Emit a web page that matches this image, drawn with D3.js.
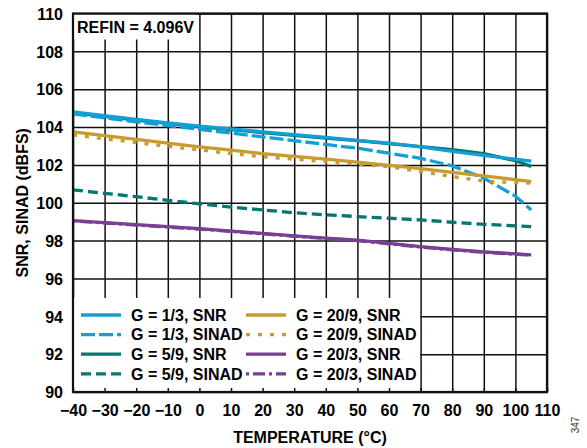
<!DOCTYPE html>
<html><head><meta charset="utf-8">
<script src="https://cdn.jsdelivr.net/npm/d3@7"></script>
<style>
html,body{margin:0;padding:0;background:#fff;}
svg{display:block;font-family:"Liberation Sans",Arial,sans-serif;font-weight:bold;}
</style></head>
<body><svg id="c" width="587" height="448"></svg>
<script>
const temps = [-40,-30,-20,-10,0,10,20,30,40,50,60,70,80,90,100,105];
const g13snr   = [104.8,104.6,104.4,104.22,104.05,103.9,103.75,103.6,103.45,103.3,103.15,102.95,102.72,102.5,102.3,102.2];
const g13sinad = [104.7,104.48,104.28,104.08,103.88,103.68,103.48,103.28,103.08,102.88,102.62,102.35,101.95,101.3,100.35,99.62];
const g59snr   = [104.75,104.56,104.37,104.19,104.02,103.86,103.71,103.56,103.42,103.28,103.12,102.97,102.8,102.6,102.22,101.92];
const g59sinad = [100.68,100.5,100.32,100.13,99.94,99.77,99.62,99.47,99.36,99.27,99.18,99.09,98.97,98.86,98.78,98.74];
const g209snr  = [103.75,103.55,103.35,103.15,102.95,102.78,102.6,102.45,102.3,102.15,101.98,101.8,101.6,101.42,101.22,101.12];
const g209sinad= [103.58,103.38,103.18,102.98,102.79,102.6,102.43,102.3,102.17,102.04,101.9,101.65,101.38,101.15,101.06,101.03];
const g203snr  = [99.06,98.95,98.84,98.74,98.63,98.5,98.38,98.25,98.13,98.02,97.85,97.68,97.53,97.4,97.3,97.25];
const g203sinad= [99.04,98.93,98.82,98.72,98.61,98.48,98.36,98.23,98.11,98.0,97.83,97.66,97.51,97.38,97.28,97.23];
const xTicks = [-40,-30,-20,-10,0,10,20,30,40,50,60,70,80,90,100,110];
const yTicks = [90,92,94,96,98,100,102,104,106,108,110];
const seriesNames = ["G = 1/3, SNR","G = 1/3, SINAD","G = 5/9, SNR","G = 5/9, SINAD","G = 20/9, SNR","G = 20/9, SINAD","G = 20/3, SNR","G = 20/3, SINAD"];

const BLUE="#139fd6", TEAL="#00776f", GOLD="#c89b30", PURPLE="#7a3e93";
const series = [
  {name:seriesNames[2], v:g59snr, c:TEAL, d:null},
  {name:seriesNames[0], v:g13snr, c:BLUE, d:null},
  {name:seriesNames[1], v:g13sinad, c:BLUE, d:"14,4"},
  {name:seriesNames[3], v:g59sinad, c:TEAL, d:"10,5"},
  {name:seriesNames[4], v:g209snr, c:GOLD, d:null},
  {name:seriesNames[5], v:g209sinad, c:GOLD, d:"4,8"},
  {name:seriesNames[6], v:g203snr, c:PURPLE, d:null},
  {name:seriesNames[7], v:g203sinad, c:PURPLE, d:"3,4,12,4"}
];

const L=73, R=547, T=13.5, B=392;
const svg = d3.select("#c");
const x = d3.scaleLinear().domain([-40,110]).range([L,R]);
const y = d3.scaleLinear().domain([90,110]).range([B,T]);
const FS = 16;

// grid via axes
svg.append("g").attr("transform",`translate(0,${B})`)
  .call(d3.axisBottom(x).tickValues(xTicks).tickSize(-(B-T)).tickFormat(""))
  .call(g=>{g.select(".domain").remove(); g.selectAll("line").attr("stroke","#111").attr("stroke-width",1.5);});
svg.append("g").attr("transform",`translate(${L},0)`)
  .call(d3.axisLeft(y).tickValues(yTicks).tickSize(-(R-L)).tickFormat(""))
  .call(g=>{g.select(".domain").remove(); g.selectAll("line").attr("stroke","#111").attr("stroke-width",1.5);});

// tick labels
svg.append("g").attr("transform",`translate(0,${B})`)
  .call(d3.axisBottom(x).tickValues(xTicks).tickSize(0).tickPadding(23))
  .call(g=>{g.select(".domain").remove(); g.selectAll("text").attr("font-size",FS).attr("font-family","Liberation Sans, Arial").attr("font-weight","bold").attr("fill","#000").attr("dy",0).attr("y",23.5);});
svg.append("g").attr("transform",`translate(${L},0)`)
  .call(d3.axisLeft(y).tickValues(yTicks).tickSize(0).tickPadding(10))
  .call(g=>{g.select(".domain").remove(); g.selectAll("text").attr("font-size",FS).attr("font-family","Liberation Sans, Arial").attr("font-weight","bold").attr("fill","#000").attr("dy","0.36em");});

// REFIN box
svg.append("rect").attr("x",L+1).attr("y",T+1).attr("width",122).attr("height",25).attr("fill","#fff");
svg.append("text").attr("x",77).attr("y",32.5).attr("font-size",FS).text("REFIN = 4.096V");

// lines
const line = d3.line().x((d,i)=>x(temps[i])).y(d=>y(d));
series.forEach(s=>{
  svg.append("path").datum(s.v).attr("d",line).attr("fill","none")
    .attr("stroke",s.c).attr("stroke-width",3.3)
    .attr("stroke-dasharray",s.d);
});

// legend
svg.append("rect").attr("x",L+1).attr("y",298).attr("width",420-L-1).attr("height",B-298-1).attr("fill","#fff");
// small bottom ticks inside legend
svg.append("g").attr("transform",`translate(0,${B})`)
  .call(d3.axisBottom(x).tickValues(xTicks).tickSize(-4).tickFormat(""))
  .call(g=>{g.select(".domain").remove(); g.selectAll("line").attr("stroke","#111").attr("stroke-width",1.5);});
const legOrder = [
  {c:BLUE,d:null},{c:BLUE,d:"14,4"},{c:TEAL,d:null},{c:TEAL,d:"10,5"},
  {c:GOLD,d:null},{c:GOLD,d:"4,8"},{c:PURPLE,d:null},{c:PURPLE,d:"3,4,12,4"}
];
legOrder.forEach((s,i)=>{
  const col = Math.floor(i/4), row = i%4;
  const x0 = col===0 ? 81 : 246;
  const yy = 315 + row*19.6;
  svg.append("line").attr("x1",x0).attr("x2",x0+40).attr("y1",yy).attr("y2",yy)
    .attr("stroke",s.c).attr("stroke-width",3.3).attr("stroke-dasharray",s.d);
  svg.append("text").attr("x",x0+50).attr("y",yy).attr("dy","0.36em").attr("font-size",FS).text(seriesNames[i]);
});

// frame
svg.append("rect").attr("x",L).attr("y",T).attr("width",R-L).attr("height",B-T)
  .attr("fill","none").attr("stroke","#111").attr("stroke-width",2.2);

// axis titles
svg.append("text").attr("x",(L+R)/2).attr("y",443).attr("text-anchor","middle").attr("font-size",16).text("TEMPERATURE (°C)");
svg.append("text").attr("transform",`translate(28,${(T+B)/2}) rotate(-90)`).attr("text-anchor","middle").attr("font-size",16).text("SNR, SINAD (dBFS)");
svg.append("text").attr("transform",`translate(579,425) rotate(-90)`).attr("text-anchor","middle").attr("font-size",10).attr("font-weight","normal").attr("fill","#333").text("347");
</script></body></html>
